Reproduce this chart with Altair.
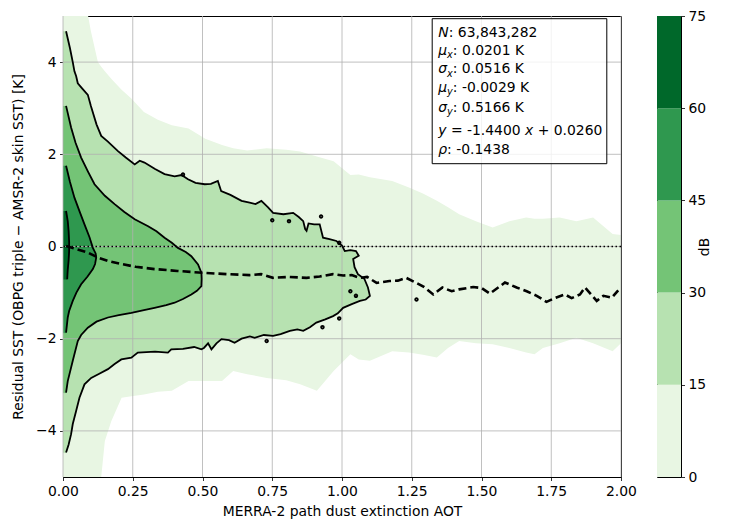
import altair as alt
import pandas as pd

# ---------------- data ----------------
x_ticks = [0.0, 0.25, 0.5, 0.75, 1.0, 1.25, 1.5, 1.75, 2.0]
y_ticks = [-4, -2, 0, 2, 4]
cbar_ticks = [0, 15, 30, 45, 60, 75]
level_lo = [0, 15, 30, 45, 60]
level_hi = [15, 30, 45, 60, 75]
level_colors = ["#e8f6e3", "#b7e2b1", "#74c476", "#2f984f", "#00682a"]

# outermost (0-15 dB) filled band: lower / upper edge versus AOT
light_x = [0.0, 0.09, 0.1, 0.125, 0.137, 0.15, 0.173, 0.21, 0.245, 0.29,
           0.34, 0.39, 0.45, 0.51, 0.57, 0.61, 0.66, 0.73, 0.80, 0.85,
           0.91, 0.97, 1.03, 1.06, 1.10, 1.18, 1.24, 1.29, 1.34, 1.38,
           1.42, 1.48, 1.54, 1.60, 1.66, 1.69, 1.72, 1.78, 1.84, 1.90,
           1.97, 2.0]
light_top = [5, 5, 4.67, 4.0, 3.9, 3.8, 3.64, 3.4, 3.21, 2.92,
             2.75, 2.63, 2.56, 2.34, 2.2, 2.13, 2.08, 2.13, 2.1, 2.06,
             1.95, 1.85, 1.55, 1.56, 1.5, 1.42, 1.28, 1.15, 0.99, 0.85,
             0.7, 0.55, 0.41, 0.55, 0.63, 0.6, 0.6, 0.63, 0.55, 0.63,
             0.27, 0.25]
light_bot = [-5, -5, -5, -5, -5, -4.22, -3.79, -3.28, -3.25, -3.21,
             -3.15, -3.13, -2.92, -2.92, -2.92, -2.7, -2.77, -2.85, -2.9, -2.99,
             -3.13, -2.7, -2.34, -2.45, -2.48, -2.27, -2.3, -2.35, -2.41, -2.2,
             -2.05, -2.1, -2.12, -2.2, -2.3, -2.34, -2.2, -2.1, -1.98, -2.1,
             -2.27, -2.1]

# 15 dB contour (path from top-left round to bottom-left)
c15_x = [0.011, 0.025, 0.035, 0.041, 0.047, 0.053, 0.07, 0.089, 0.1, 0.12,
         0.137, 0.16, 0.197, 0.225, 0.257, 0.275, 0.292, 0.33, 0.364, 0.40,
         0.425, 0.448, 0.475, 0.508, 0.53, 0.555, 0.567, 0.60, 0.64, 0.669,
         0.69, 0.711, 0.735, 0.753, 0.79, 0.825, 0.845, 0.861, 0.868, 0.873,
         0.88, 0.90, 0.92, 0.932, 0.955, 0.98, 1.0, 1.01, 1.03, 1.05,
         1.06, 1.04, 1.045, 1.057, 1.08, 1.093, 1.10, 1.085, 1.064, 1.035,
         1.004, 0.985, 0.968, 0.94, 0.908, 0.885, 0.861, 0.84, 0.813, 0.78,
         0.753, 0.72, 0.687, 0.67, 0.64, 0.615, 0.595, 0.568, 0.55, 0.532,
         0.52, 0.505, 0.496, 0.47, 0.43, 0.388, 0.376, 0.33, 0.268, 0.245,
         0.209, 0.185, 0.161, 0.13, 0.101, 0.077, 0.059, 0.047, 0.035, 0.029,
         0.02, 0.011]
c15_y = [4.67, 4.3, 4.0, 3.8, 3.7, 3.54, 3.42, 3.29, 3.05, 2.65,
         2.4, 2.28, 2.07, 1.93, 1.78, 1.86, 1.82, 1.68, 1.57, 1.52,
         1.55, 1.46, 1.38, 1.35, 1.36, 1.42, 1.2, 1.12, 0.99, 0.95,
         0.92, 0.99, 0.85, 0.73, 0.70, 0.73, 0.64, 0.55, 0.38, 0.34,
         0.50, 0.48, 0.48, 0.19, 0.16, 0.12, 0.02, -0.1, -0.08, -0.1,
         -0.2, -0.27, -0.45, -0.6, -0.7, -0.89, -1.07, -1.15, -1.18, -1.25,
         -1.33, -1.45, -1.51, -1.58, -1.65, -1.75, -1.83, -1.80, -1.83, -1.9,
         -1.94, -1.92, -1.98, -1.95, -2.0, -2.09, -2.03, -2.01, -2.1, -2.23,
         -2.1, -2.2, -2.23, -2.18, -2.22, -2.23, -2.30, -2.28, -2.30, -2.41,
         -2.45, -2.55, -2.66, -2.76, -2.85, -2.99, -3.28, -3.57, -3.85, -4.07,
         -4.3, -4.47]

# 30 dB contour
c30_x = [0.011, 0.029, 0.045, 0.065, 0.09, 0.113, 0.15, 0.185, 0.22, 0.257,
         0.305, 0.335, 0.364, 0.39, 0.412, 0.44, 0.46, 0.484, 0.496, 0.497,
         0.496, 0.48, 0.46, 0.43, 0.4, 0.37, 0.328, 0.29, 0.245, 0.2,
         0.161, 0.12, 0.089, 0.065, 0.053, 0.035, 0.017, 0.011]
c30_y = [3.05, 2.58, 2.25, 1.93, 1.62, 1.35, 1.1, 0.92, 0.75, 0.59,
         0.44, 0.33, 0.19, 0.08, -0.03, -0.12, -0.21, -0.39, -0.57, -0.7,
         -0.86, -0.96, -1.04, -1.14, -1.22, -1.27, -1.33, -1.38, -1.44, -1.49,
         -1.54, -1.63, -1.76, -1.92, -2.05, -2.48, -2.92, -3.17]

# 45 dB contour
c45_x = [0.011, 0.025, 0.041, 0.06, 0.077, 0.095, 0.107, 0.117, 0.119, 0.115,
         0.107, 0.088, 0.065, 0.048, 0.035, 0.022, 0.017, 0.011]
c45_y = [1.75, 1.4, 1.06, 0.75, 0.48, 0.2, -0.03, -0.15, -0.24, -0.38,
         -0.49, -0.65, -0.82, -1.0, -1.18, -1.4, -1.54, -1.87]

# 60 dB contour
c60_x = [0.011, 0.017, 0.02, 0.022, 0.022, 0.02, 0.017, 0.015]
c60_y = [0.77, 0.55, 0.34, 0.1, -0.1, -0.31, -0.5, -0.71]

# small isolated 15 dB contour islands
island_x = [0.43, 0.75, 0.81, 0.925, 0.99, 0.73, 0.93, 0.99, 1.03, 1.05, 1.267]
island_y = [1.56, 0.57, 0.55, 0.65, 0.08, -2.05, -1.75, -1.56, -0.97, -1.07, -1.15]

# conditional mean residual (dashed)
mean_x = [0.011, 0.05, 0.089, 0.125, 0.16, 0.209, 0.26, 0.328, 0.41, 0.5,
          0.59, 0.669, 0.71, 0.753, 0.81, 0.873, 0.92, 0.968, 1.004, 1.035,
          1.064, 1.09, 1.124, 1.17, 1.2, 1.23, 1.267, 1.295, 1.327, 1.36,
          1.393, 1.42, 1.47, 1.5, 1.53, 1.567, 1.584, 1.626, 1.662, 1.698,
          1.733, 1.763, 1.799, 1.823, 1.853, 1.871, 1.913, 1.937, 1.967, 1.99]
mean_y = [0.01, -0.06, -0.13, -0.24, -0.31, -0.38, -0.44, -0.49, -0.53, -0.57,
          -0.6, -0.62, -0.6, -0.68, -0.66, -0.68, -0.65, -0.6, -0.63, -0.62,
          -0.68, -0.66, -0.79, -0.75, -0.74, -0.68, -0.79, -0.88, -1.04, -0.89,
          -0.97, -0.93, -0.88, -0.9, -1.02, -0.86, -0.78, -0.89, -0.97, -1.07,
          -1.2, -1.12, -1.04, -1.12, -1.04, -0.89, -1.18, -1.07, -1.11, -0.95]

# statistics box: (text, style) pieces per line
stats_lines = [
    [("N", "i"), (": 63,843,282", "n")],
    [("μ", "i"), ("x", "s"), (": 0.0201 K", "n")],
    [("σ", "i"), ("x", "s"), (": 0.0516 K", "n")],
    [("μ", "i"), ("y", "s"), (": -0.0029 K", "n")],
    [("σ", "i"), ("y", "s"), (": 0.5166 K", "n")],
    [("y", "i"), (" = -1.4400 ", "n"), ("x", "i"), (" + 0.0260", "n")],
    [("ρ", "i"), (": -0.1438", "n")],
]

# ---------------- styling ----------------
FONT = "DejaVu Sans"
FS = 13.9
SUB = 9.7
W, H = 558, 461

GLYPH = {" ": 651, ":": 690, ",": 651, ".": 651, "-": 739, "=": 1716, "+": 1716,
         "K": 1343, "N": 1532, "x": 1212, "y": 1212, "μ": 1298, "σ": 1274, "ρ": 1300}


def text_width(s, size):
    return sum(GLYPH.get(c, 1303) for c in s) / 2048.0 * size


xsc = alt.Scale(domain=[0, 2], nice=False, zero=False, padding=0)
ysc = alt.Scale(domain=[-5, 5], nice=False, zero=False, padding=0)
xaxis = alt.Axis(values=x_ticks, format=".2f", title="MERRA-2 path dust extinction AOT",
                 titlePadding=7)
yaxis = alt.Axis(values=y_ticks, format="d",
                 title="Residual SST (OBPG triple − AMSR-2 skin SST) [K]", titlePadding=10)


def X(field="x"):
    return alt.X(field, type="quantitative", scale=xsc, axis=xaxis)


def Y(field="y"):
    return alt.Y(field, type="quantitative", scale=ysc, axis=yaxis)


def path_df(xs, ys):
    return pd.DataFrame({"x": xs, "y": ys, "i": list(range(len(xs)))})


def polygon_df(xs, ys):
    # contour path closed along the y axis (x = 0)
    px = list(xs) + [0.0, 0.0]
    py = list(ys) + [ys[-1], ys[0]]
    return path_df(px, py)


layers = []

light_df = pd.DataFrame({"x": light_x, "top": light_top, "bot": light_bot})
layers.append(alt.Chart(light_df).mark_area(color=level_colors[0], orient="vertical", clip=True)
              .encode(x=X(), y=Y("top"), y2="bot"))

contours = [(c15_x, c15_y), (c30_x, c30_y), (c45_x, c45_y), (c60_x, c60_y)]
for k, (cx, cy) in enumerate(contours):
    layers.append(alt.Chart(polygon_df(cx, cy))
                  .mark_line(fill=level_colors[k + 1], stroke=level_colors[k + 1], strokeWidth=0.5, clip=True)
                  .encode(x=X(), y=Y(), order="i:Q"))

# grid lines (above the fills, below the contour lines)
layers.append(alt.Chart(pd.DataFrame({"x": x_ticks})).mark_rule(color="#b0b0b0", strokeWidth=0.8)
              .encode(x=X()))
layers.append(alt.Chart(pd.DataFrame({"y": y_ticks})).mark_rule(color="#b0b0b0", strokeWidth=0.8)
              .encode(y=Y()))

for cx, cy in contours:
    layers.append(alt.Chart(path_df(cx, cy)).mark_line(color="black", strokeWidth=1.8, clip=True)
                  .encode(x=X(), y=Y(), order="i:Q"))

layers.append(alt.Chart(pd.DataFrame({"x": island_x, "y": island_y}))
              .mark_point(shape="circle", size=7, color="black", strokeWidth=1.8, filled=False, opacity=1)
              .encode(x=X(), y=Y()))

layers.append(alt.Chart(pd.DataFrame({"y": [0]})).mark_rule(color="black", strokeDash=[1.5, 2.5], strokeWidth=1.5)
              .encode(y=Y()))

layers.append(alt.Chart(path_df(mean_x, mean_y)).mark_line(color="black", strokeDash=[8, 4], strokeWidth=2.6, clip=True)
              .encode(x=X(), y=Y(), order="i:Q"))

one = pd.DataFrame({"a": [0]})
layers.append(alt.Chart(one).mark_rect(fill="white", fillOpacity=0.8, stroke="black", strokeWidth=1)
              .encode(x=alt.value(369.2), x2=alt.value(543.8), y=alt.value(2.7), y2=alt.value(147.7)))

baselines = [20.7, 39.0, 57.3, 76.0, 95.5, 119.0, 137.7]
TX0 = 375.3
for line, by in zip(stats_lines, baselines):
    px = TX0
    for s, style in line:
        if style == "s":
            size, dy, fstyle = SUB, 3.2, "italic"
        elif style == "i":
            size, dy, fstyle = FS, 0, "italic"
        else:
            size, dy, fstyle = FS, 0, "normal"
        lead = len(s) - len(s.lstrip(" "))
        layers.append(alt.Chart(one).mark_text(align="left", baseline="alphabetic", font=FONT,
                                               fontSize=size, fontStyle=fstyle, color="black")
                      .encode(x=alt.value(px + text_width(" " * lead, size)), y=alt.value(by + dy),
                              text=alt.value(s.strip(" "))))
        px += text_width(s, size)

main = alt.layer(*layers).properties(width=W, height=H)

cbar_df = pd.DataFrame({"lo": level_lo, "hi": level_hi})
cbar = alt.Chart(cbar_df).mark_rect().encode(
    y=alt.Y("lo:Q", scale=alt.Scale(domain=[0, 75], nice=False, padding=0),
            axis=alt.Axis(orient="right", values=cbar_ticks, title="dB", titleAngle=270,
                          titlePadding=6, format="d")),
    y2="hi:Q",
    color=alt.Color("lo:O", scale=alt.Scale(domain=level_lo, range=level_colors), legend=None),
).properties(width=24, height=H)

chart = alt.hconcat(main, cbar, spacing=36, bounds="flush").properties(
    padding={"left": 3, "top": 0, "right": 0, "bottom": 5}
).configure_view(stroke="black", strokeWidth=1).configure_axis(
    grid=False, domain=False, tickColor="black", tickSize=3.5, tickWidth=0.8,
    labelColor="black", labelFont=FONT, labelFontSize=FS, labelPadding=3.5, labelFlush=False,
    titleColor="black", titleFont=FONT, titleFontSize=FS, titleFontWeight="normal",
)

chart.save("out.html", embed_options={"renderer": "svg", "actions": False})
